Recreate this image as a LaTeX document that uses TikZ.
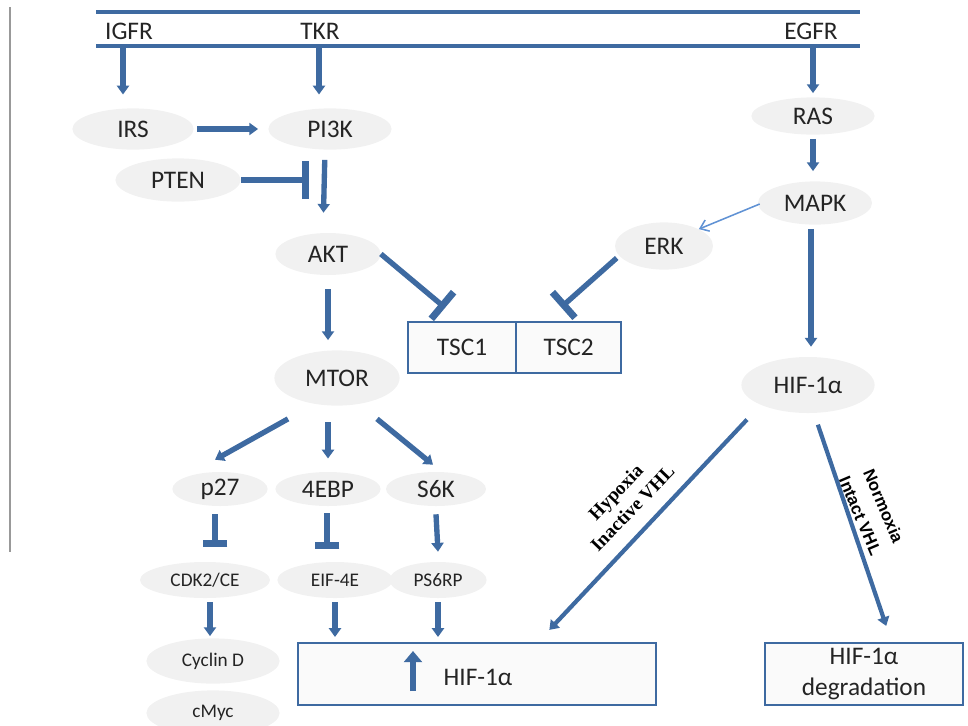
\documentclass[tikz,border=0pt]{standalone}
\usepackage{fontspec}
\setmainfont{Carlito}
\newfontfamily\hypofont{Liberation Serif}
\newfontfamily\normofont{Liberation Sans}
\usepackage{tikz}
\usetikzlibrary{arrows.meta, shapes.geometric, positioning}
\definecolor{pathblue}{RGB}{62,106,161}
\definecolor{weakblue}{RGB}{96,146,212}
\definecolor{molgray}{RGB}{241,241,241}
\definecolor{txtdark}{RGB}{36,36,36}
\tikzset{
    mnode/.style={ellipse, fill=molgray, text=txtdark, inner sep=0pt, minimum width=3cm, minimum height=1.05cm, font=\fontsize{18}{21}\selectfont},
    snode/.style={mnode, minimum height=0.9cm, font=\fontsize{13.7}{16}\selectfont},
    recnode/.style={text=txtdark, inner sep=0pt, font=\fontsize{18}{21}\selectfont},
    bxnode/.style={rectangle, draw=pathblue, line width=1.5pt, fill=molgray!35, text=txtdark, inner sep=0pt, outer sep=0pt, minimum height=1.28cm, font=\fontsize{18}{21}\selectfont},
    memb/.style={draw=pathblue, line width=2.3pt},
    act/.style={draw=pathblue, line width=3.8pt, -{Triangle[width=0.3cm, length=0.22cm]}},
    inh/.style={draw=pathblue, line width=3.8pt, -{Bar[width=#1, line width=5pt]}},
    inh/.default=0.62cm,
    weak/.style={draw=weakblue, line width=1.1pt, -{Straight Barb[width=0.3cm, length=0.2cm]}},
    diag/.style={draw=pathblue, line width=3pt, -{Triangle[width=0.3cm, length=0.22cm]}},
}
\begin{document}
\begin{tikzpicture}[x=0.025cm, y=-0.025cm]
    \useasboundingbox (0,0) rectangle (968,725);
    % page edge
    \draw[gray!80, line width=0.9pt] (10,7) -- (10,552);

    % Membrane and receptors
    \draw[memb] (96,12) -- (860,12);
    \draw[memb] (96,46) -- (860,46);
    \node[recnode] (igfr) at (129,31) {IGFR};
    \node[recnode] (tkr) at (320,31) {TKR};
    \node[recnode] (egfr) at (811,31) {EGFR};
    \coordinate (m-igfr) at (123,47);
    \coordinate (m-tkr) at (319,47);
    \coordinate (m-egfr) at (813,47);

    % PI3K / AKT side
    \node[mnode, minimum width=3.03cm, minimum height=1.03cm] (irs) at (133,129) {IRS};
    \node[mnode, minimum width=3.08cm, minimum height=1.03cm] (pi3k) at (330,129) {PI3K};
    \node[mnode, minimum width=3.13cm, minimum height=1.08cm] (pten) at (178,180) {PTEN};
    \node[mnode, minimum width=2.63cm, minimum height=1.05cm] (akt) at (328,254) {AKT};
    \node[mnode, minimum width=3.13cm, minimum height=1.38cm] (mtor) at (337,378) {MTOR};

    % MAPK side
    \node[mnode, minimum width=3.08cm, minimum height=0.93cm] (ras) at (813,116) {RAS};
    \node[mnode, minimum width=2.85cm, minimum height=1.08cm] (mapk) at (815,203) {MAPK};
    \node[mnode, minimum width=2.45cm, minimum height=1.18cm] (erk) at (664,246) {ERK};
    \node[mnode, minimum width=3.33cm, minimum height=1.4cm] (hif) at (808,385) {HIF-1α};

    % TSC complex
    \node[bxnode, minimum width=2.7cm] (tsc1) at (462,347.5) {TSC1};
    \node[bxnode, minimum width=2.63cm, anchor=west] (tsc2) at (tsc1.east) {TSC2};

    % mTOR targets
    \node[mnode, minimum width=2.38cm, minimum height=0.85cm] (p27) at (220,489) {p27};
    \node[mnode, minimum width=2.63cm, minimum height=0.85cm] (ebp) at (328,489) {4EBP};
    \node[mnode, minimum width=2.5cm, minimum height=0.85cm] (s6k) at (436,489) {S6K};
    \node[snode, minimum width=3.25cm] (cdk) at (205,580) {CDK2/CE};
    \node[snode, minimum width=2.88cm] (eif) at (335,580) {EIF-4E};
    \node[snode, minimum width=2.43cm] (ps6rp) at (438,580) {PS6RP};
    \node[snode, minimum width=3.33cm, minimum height=1.13cm] (cyc) at (213,661) {Cyclin D};
    \node[snode, minimum width=3.33cm, minimum height=1.13cm] (cmyc) at (213,713) {cMyc};

    % Outcome boxes
    \node[bxnode, minimum width=8.95cm, minimum height=1.55cm] (up) at (477,674) {};
    \node[recnode] (up-txt) at (478,677) {HIF-1α};
    \coordinate (up-foot) at (413,691);
    \coordinate (up-tip) at (413,651);
    \node[bxnode, minimum width=4.95cm, minimum height=1.55cm, align=center, font=\fontsize{18}{22}\selectfont] (deg) at (864,674) {HIF-1α\\degradation};

    % Connectors
    \draw[act, shorten >=0.34cm] (m-igfr) -- (m-igfr |- irs.north);
    \draw[act, shorten >=0.34cm] (m-tkr) -- (m-tkr |- pi3k.north);
    \draw[act, shorten >=0.1cm] (m-egfr) -- (m-egfr |- ras.north);
    \draw[act, shorten <=0.08cm, shorten >=0.25cm] (irs) -- (pi3k);
    \draw[act, shorten <=0.25cm, shorten >=0.5cm] ([xshift=-0.125cm]pi3k.south) -- ([xshift=-0.125cm]akt.north);
    \coordinate (pten-stop) at (309,180);
    \draw[inh=0.95cm] (pten.east) -- (pten-stop);
    \draw[act, shorten <=0.35cm, shorten >=0.25cm] (akt.south) -- (akt.south |- mtor.north);
    \draw[inh=0.87cm, shorten >=0.55cm] (akt.east) -- (tsc1.north);
    \draw[act, shorten <=0.1cm, shorten >=0.25cm] (ras.south) -- (ras.south |- mapk.north);
    \draw[weak] ([shift={(2,1)}]mapk.west) -- (erk.north east);
    \draw[inh=0.85cm, shorten >=0.55cm] ([shift={(2,12)}]erk.west) -- ([xshift=-0.6cm]tsc2.north);
    \draw[act, shorten <=0.1cm, shorten >=0.25cm] ([xshift=-0.1cm]mapk.south) -- ([xshift=-0.1cm]mapk.south |- hif.north);

    \draw[act] ([shift={(-49,13)}]mtor.south) -- ([shift={(-5,-12)}]p27.north);
    \draw[act, shorten <=0.41cm, shorten >=0.33cm] (mtor.south -| ebp.north) -- (ebp.north);
    \draw[act] ([shift={(40,13)}]mtor.south) -- ([shift={(-3,-7)}]s6k.north);

    \draw[inh] ([shift={(-5,8)}]p27.south) -- ([shift={(10,-15)}]cdk.north);
    \draw[inh] ([shift={(-1,7)}]ebp.south) -- ([shift={(-8,-13)}]eif.north);
    \draw[act] ([shift={(0,8)}]s6k.south) -- ([shift={(0,-10)}]ps6rp.north);
    \draw[act] ([shift={(5,4)}]cdk.south) -- ([shift={(-3,-2)}]cyc.north);
    \draw[act, shorten <=0.1cm, shorten >=0.15cm] (eif.south) -- (eif.south |- up.north);
    \draw[act, shorten <=0.1cm, shorten >=0.15cm] (ps6rp.south) -- (ps6rp.south |- up.north);
    \draw[act, line width=4.2pt, -{Triangle[width=0.45cm, length=0.28cm]}] (up-foot) -- (up-tip);

    \draw[diag, shorten <=0.5cm, shorten >=0.45cm] (hif.south west) -- ([xshift=1.5cm]up.north);
    \draw[diag, shorten <=0.3cm, shorten >=0.45cm] ([xshift=0.15cm]hif.south) -- ([xshift=0.7cm]deg.north);

    % Conditions
    \node[rotate=46, align=center, text=black, font=\hypofont\bfseries\fontsize{13.5}{16.5}\selectfont] (hypo) at (624,500) {Hypoxia\\Inactive VHL};
    \node[rotate=-67, align=center, text=black, font=\normofont\bfseries\fontsize{12}{18}\selectfont] (normo) at (872,511) {Normoxia\\Intact VHL};
\end{tikzpicture}
\end{document}
